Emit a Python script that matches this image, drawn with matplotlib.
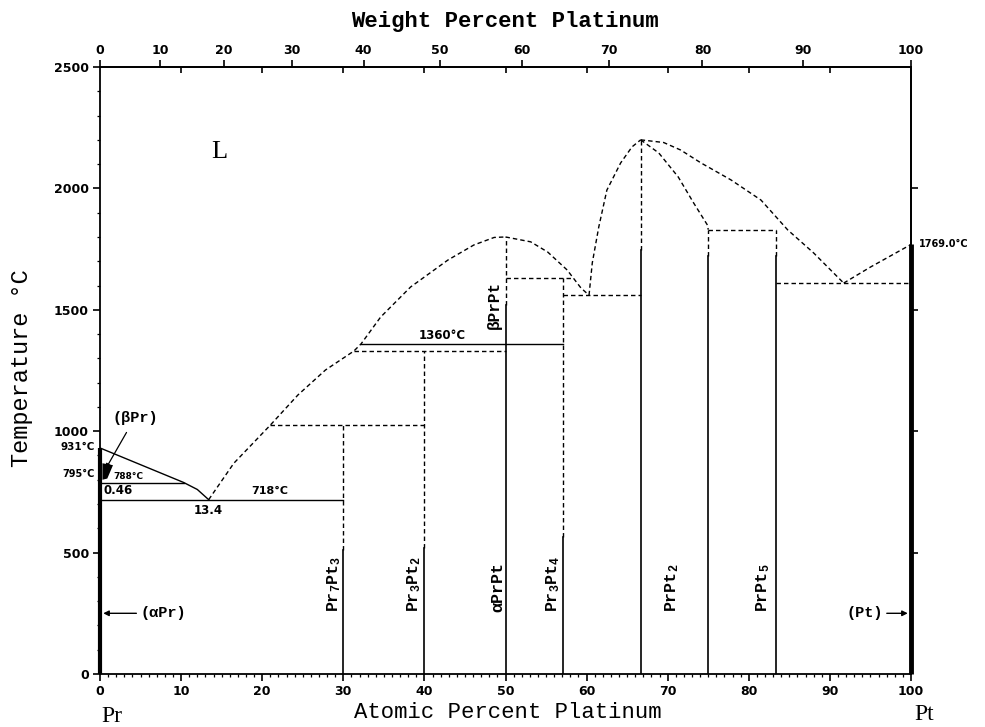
import numpy as np
import matplotlib
matplotlib.use('Agg')
import matplotlib.pyplot as plt
from matplotlib.patches import Polygon
from matplotlib.ticker import MultipleLocator, FixedLocator, NullFormatter

plt.rcParams['font.family'] = ['Liberation Mono', 'DejaVu Sans']
plt.rcParams['mathtext.default'] = 'regular'

M_PR, M_PT = 140.908, 195.08

# ---------------- data ----------------
# solid liquidus near Pr
liq_pr_x = [0, 10.3, 12.0, 13.4]
liq_pr_T = [931, 789, 760, 718]
# dashed liquidus segments
liq1_x = [13.4, 16.5, 21.0, 24.4, 27.8, 31.3, 32.2, 34.6, 38.3, 42.9, 46.1, 48.6, 50.0]
liq1_T = [718, 868, 1025, 1149, 1252, 1330, 1360, 1470, 1594, 1705, 1767, 1798, 1800]
liq2_x = [50.0, 53.1, 55.2, 57.6, 59.3, 60.3]
liq2_T = [1800, 1780, 1738, 1664, 1590, 1560]
liq3_x = [60.3, 60.7, 61.5, 62.5, 64.2, 65.6, 66.67]
liq3_T = [1560, 1693, 1841, 1993, 2105, 2171, 2200]
liq4_x = [66.67, 69.5, 71.6, 74.1, 77.8, 81.5, 84.8, 88.0, 91.7]
liq4_T = [2200, 2189, 2158, 2105, 2035, 1952, 1829, 1734, 1610]
liq5_x = [66.67, 68.9, 71.3, 73.2, 74.9, 75.0]
liq5_T = [2200, 2146, 2047, 1940, 1849, 1830]
liq6_x = [91.7, 95.0, 100.0]
liq6_T = [1610, 1676, 1769]

# horizontal invariant lines
solid_h_T = [718, 788, 1360]
solid_h_x0 = [0, 0, 32.2]
solid_h_x1 = [30, 10.3, 57.14]
dash_h_T = [1025, 1330, 1630, 1560, 1830, 1610]
dash_h_x0 = [21.0, 31.3, 50.0, 57.14, 75.0, 83.33]
dash_h_x1 = [40.0, 50.0, 58.3, 66.67, 83.33, 100.0]

# compounds (vertical lines)
comp_x = [30, 40, 50, 57.14, 66.67, 75, 83.33]
comp_top = [1025, 1330, 1800, 1630, 2200, 1830, 1830]
comp_solid_top = [510, 520, 1520, 565, 1745, 1720, 1720]

comp_labels = ['Pr$_7$Pt$_3$', 'Pr$_3$Pt$_2$', 'αPrPt', 'Pr$_3$Pt$_4$', 'PrPt$_2$', 'PrPt$_5$']
comp_label_x = [28.9, 38.7, 49.1, 55.9, 70.6, 81.8]

# melting points / terminal phases
pr_melt = 931
pt_melt = 1769

at_ticks = list(range(0, 101, 10))
wt_ticks = list(range(0, 101, 10))
T_ticks = list(range(0, 2501, 500))


def at2wt(x):
    x = np.asarray(x, dtype=float)
    return 100 * x * M_PT / (x * M_PT + (100 - x) * M_PR)


def wt2at(w):
    w = np.asarray(w, dtype=float)
    a = w / M_PT
    b = (100 - w) / M_PR
    return 100 * a / (a + b)


# ---------------- figure ----------------
fig = plt.figure(figsize=(9.85, 7.27), dpi=100)
L, R, T, B = 100, 911, 67, 674
ax = fig.add_axes([L / 985, 1 - B / 727, (R - L) / 985, (B - T) / 727])
ax.set_xlim(0, 100)
ax.set_ylim(0, 2500)

dash = (3.2, 2.2)
lw = 1.0
k = 'black'

ax.plot(liq_pr_x, liq_pr_T, color=k, lw=lw)
for xs, ts in [(liq1_x, liq1_T), (liq2_x, liq2_T), (liq3_x, liq3_T),
               (liq4_x, liq4_T), (liq5_x, liq5_T), (liq6_x, liq6_T)]:
    ax.plot(xs, ts, color=k, lw=lw, linestyle=(0, dash))

for t, x0, x1 in zip(solid_h_T, solid_h_x0, solid_h_x1):
    ax.plot([x0, x1], [t, t], color=k, lw=lw)
for t, x0, x1 in zip(dash_h_T, dash_h_x0, dash_h_x1):
    ax.plot([x0, x1], [t, t], color=k, lw=lw, linestyle=(0, dash))

for x, top, st in zip(comp_x, comp_top, comp_solid_top):
    ax.plot([x, x], [st, top], color=k, lw=lw, linestyle=(0, dash))
    ax.plot([x, x], [0, st], color=k, lw=1.2)

for lab, x in zip(comp_labels, comp_label_x):
    ax.text(x, 255, lab, rotation=90, ha='center', va='bottom',
            fontsize=12, fontweight='bold')

# terminal solid solutions (thick lines)
ax.plot([0, 0], [0, pr_melt], color=k, lw=3.0, clip_on=False, solid_capstyle='butt')
ax.plot([100, 100], [0, pt_melt], color=k, lw=3.5, clip_on=False, solid_capstyle='butt')

# beta-Pr small region
ax.add_patch(Polygon([(0.3, 800), (0.3, 868), (1.6, 860), (0.9, 805)],
                     closed=True, color=k, lw=0))

# annotations
num_font = dict(family='DejaVu Sans', fontweight='bold')
ax.text(14.7, 2150, 'L', family='Liberation Serif', fontsize=19, ha='center', va='center')
ax.text(42.2, 1366, '1360°C', fontsize=8.5, ha='center', va='bottom', **num_font)
ax.text(48.6, 1520, 'βPrPt', rotation=90, fontsize=11.5, ha='center', va='center',
        fontweight='bold')
ax.text(20.9, 732, '718°C', fontsize=8, ha='center', va='bottom', **num_font)
ax.text(13.3, 702, '13.4', fontsize=8.5, ha='center', va='top', **num_font)
ax.text(0.4, 782, '0.46', fontsize=8.5, ha='left', va='top', **num_font)
ax.text(1.6, 795, '788°C', fontsize=6.5, ha='left', va='bottom', **num_font)
ax.text(-0.6, 822, '795°C', fontsize=7, ha='right', va='center', **num_font)
ax.text(-0.6, 935, '931°C', fontsize=7.5, ha='right', va='center', **num_font)
ax.text(101.0, 1770, '1769.0°C', fontsize=7, ha='left', va='center', **num_font)

ax.annotate('(βPr)', xy=(0.7, 845), xytext=(4.3, 1055), fontsize=11, fontweight='bold',
            ha='center', va='center',
            arrowprops=dict(arrowstyle='-|>', lw=0.9, color=k, mutation_scale=7,
                            shrinkA=4, shrinkB=0))
ax.annotate('(αPr)', xy=(0.4, 250), xytext=(5.0, 250), fontsize=11, fontweight='bold',
            ha='left', va='center',
            arrowprops=dict(arrowstyle='-|>', lw=1.0, color=k, mutation_scale=8,
                            shrinkA=1, shrinkB=0))
ax.annotate('(Pt)', xy=(99.6, 250), xytext=(96.5, 250), fontsize=11, fontweight='bold',
            ha='right', va='center',
            arrowprops=dict(arrowstyle='-|>', lw=1.0, color=k, mutation_scale=8,
                            shrinkA=1, shrinkB=0))

# ---------------- axes styling ----------------
for sp in ax.spines.values():
    sp.set_linewidth(1.3)

ax.xaxis.set_major_locator(FixedLocator(at_ticks))
ax.xaxis.set_minor_locator(MultipleLocator(1))
ax.yaxis.set_major_locator(FixedLocator(T_ticks))
ax.yaxis.set_minor_locator(MultipleLocator(100))
ax.tick_params(which='major', direction='out', length=5, width=1.2,
               labelsize=9, pad=3, top=False, right=False)
ax.tick_params(which='minor', direction='out', length=2.5, width=0.9,
               top=False, right=False)
for lab in ax.get_xticklabels() + ax.get_yticklabels():
    lab.set_family('DejaVu Sans')
    lab.set_fontweight('bold')

# inward at% ticks on top
top_in = ax.secondary_xaxis('top')
top_in.xaxis.set_major_locator(FixedLocator(at_ticks[1:-1]))
top_in.tick_params(direction='in', length=4, width=1.2, labeltop=False)
top_in.xaxis.set_major_formatter(NullFormatter())
top_in.spines['top'].set_visible(False)

# weight percent axis on top
wt_ax = ax.secondary_xaxis('top', functions=(at2wt, wt2at))
wt_ax.xaxis.set_major_locator(FixedLocator(wt_ticks))
wt_ax.tick_params(direction='out', length=5, width=1.2, labelsize=9, pad=2)
wt_ax.spines['top'].set_linewidth(1.3)
for lab in wt_ax.get_xticklabels():
    lab.set_family('DejaVu Sans')
    lab.set_fontweight('bold')

# right axis ticks
r_ax = ax.secondary_yaxis('right')
r_ax.yaxis.set_major_locator(FixedLocator(T_ticks[1:-1]))
r_ax.tick_params(direction='out', length=5, width=1.2, labelright=False)
r_ax.spines['right'].set_linewidth(1.3)

# axis titles
fig.text(505 / 985, 1 - 22 / 727, 'Weight Percent Platinum', ha='center', va='center',
         fontsize=16, fontweight='bold')
fig.text(508 / 985, 1 - 713 / 727, 'Atomic Percent Platinum', ha='center', va='center',
         fontsize=16)
fig.text(22 / 985, 1 - 368 / 727, 'Temperature °C', ha='center', va='center',
         rotation=90, fontsize=17)
fig.text(112 / 985, 1 - 716 / 727, 'Pr', ha='center', va='center',
         family='Liberation Serif', fontsize=17)
fig.text(924 / 985, 1 - 714 / 727, 'Pt', ha='center', va='center',
         family='Liberation Serif', fontsize=17)

fig.savefig('out.png', dpi=100, facecolor='white')
